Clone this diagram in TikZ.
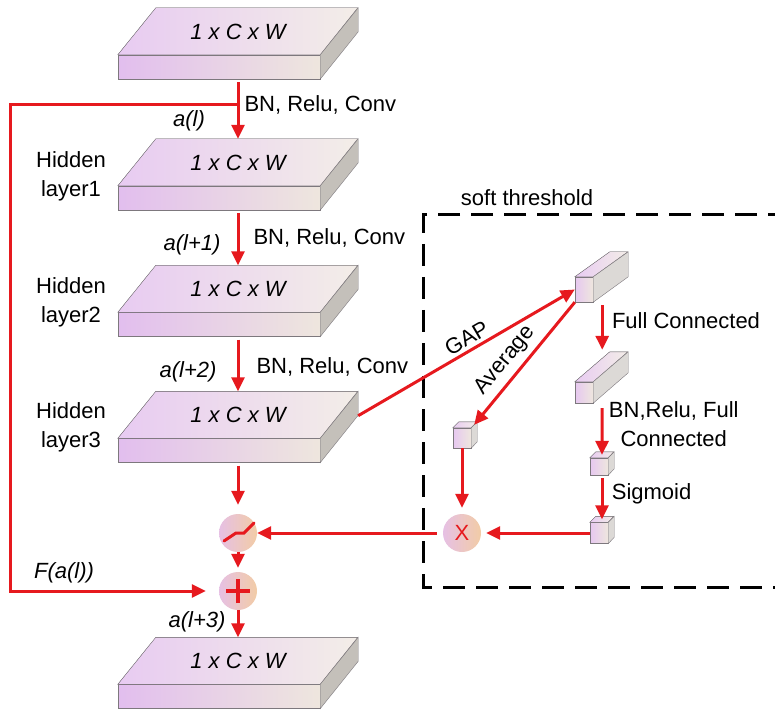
\documentclass[tikz,border=0pt]{standalone}
\usepackage{fontspec}
\setmainfont{Liberation Sans}
\usetikzlibrary{arrows.meta}
\definecolor{arrowred}{RGB}{230,25,30}
\definecolor{slabpink}{RGB}{226,190,238}
\definecolor{slabbeige}{RGB}{238,230,222}
\definecolor{slabside}{RGB}{196,192,186}
\definecolor{slabedge}{RGB}{125,120,125}
\definecolor{circpink}{RGB}{230,192,228}
\definecolor{circorange}{RGB}{242,204,166}

\begin{document}
\begin{tikzpicture}[x=1pt, y=1pt]
		\tikzset{slab/.style={rectangle, draw=slabedge, left color=slabpink, right color=slabbeige, minimum width=202, minimum height=24, inner sep=0},
			slabtop/.style={minimum height=47, inner sep=0, font=\fontsize{22}{26}\selectfont\itshape},
			face/.style={draw=slabedge, left color=slabpink!80!white, right color=slabbeige!70!white},
			side/.style={draw=slabedge, fill=slabside},
			cube/.style={rectangle, draw=slabedge, left color=slabpink!85!white, right color=slabbeige, inner sep=0},
			circ/.style={circle, left color=circpink, right color=circorange, minimum size=38, inner sep=0},
			lbl/.style={font=\fontsize{22}{29}\selectfont},
			ilbl/.style={font=\fontsize{22}{29}\selectfont\itshape},
			redarrow/.style={draw=arrowred, line width=3pt, -{Triangle[length=14pt, width=13pt]}},
			redline/.style={draw=arrowred, line width=3pt}}
		\clip (0,0) rectangle (775,710);

		% slabs
		\node[slab] (s1) at (219, 643) {};
		\filldraw[face] (s1.north west) -- ++(38,47) -- ++(202,0) -- (s1.north east) -- cycle;
		\filldraw[side] (s1.north east) -- ++(38,47) -- ++(0,-24) -- (s1.south east) -- cycle;
		\node[slabtop] (t1) at (238, 678.5) {1 x C x W};

		\node[slab] (s2) at (219, 512) {};
		\filldraw[face] (s2.north west) -- ++(38,47) -- ++(202,0) -- (s2.north east) -- cycle;
		\filldraw[side] (s2.north east) -- ++(38,47) -- ++(0,-24) -- (s2.south east) -- cycle;
		\node[slabtop] (t2) at (238, 547.5) {1 x C x W};

		\node[slab] (s3) at (219, 385.5) {};
		\filldraw[face] (s3.north west) -- ++(38,47) -- ++(202,0) -- (s3.north east) -- cycle;
		\filldraw[side] (s3.north east) -- ++(38,47) -- ++(0,-24) -- (s3.south east) -- cycle;
		\node[slabtop] (t3) at (238, 421) {1 x C x W};

		\node[slab] (s4) at (219, 259.5) {};
		\filldraw[face] (s4.north west) -- ++(38,47) -- ++(202,0) -- (s4.north east) -- cycle;
		\filldraw[side] (s4.north east) -- ++(38,47) -- ++(0,-24) -- (s4.south east) -- cycle;
		\node[slabtop] (t4) at (238, 295) {1 x C x W};

		\node[slab] (s5) at (219, 13.5) {};
		\filldraw[face] (s5.north west) -- ++(38,47) -- ++(202,0) -- (s5.north east) -- cycle;
		\filldraw[side] (s5.north east) -- ++(38,47) -- ++(0,-24) -- (s5.south east) -- cycle;
		\node[slabtop] (t5) at (238, 49) {1 x C x W};

		\node[lbl, align=center] (h1) at (71, 534) {Hidden\\layer1};
		\node[lbl, align=center] (h2) at (71, 408) {Hidden\\layer2};
		\node[lbl, align=center] (h3) at (71, 283) {Hidden\\layer3};

		% circles
		\node[circ] (act) at (238, 177) {};
		\node[circ] (plus) at (238, 119) {};
		\node[circ, lbl, text=arrowred] (mul) at (462, 177) {X};
		\draw[redline, line cap=round] ([shift={(-14,-8)}]act.center) -- ++(12,8) -- ++(8,0) -- ++(10,10);
		\draw[redline, line width=4pt] ([xshift=-12pt]plus.center) -- ([xshift=12pt]plus.center);
		\draw[redline, line width=4pt] ([yshift=-12pt]plus.center) -- ([yshift=12pt]plus.center);

		% main path
		\coordinate (split) at (238, 605);
		\coordinate (corner) at (10, 605);
		\draw[redarrow, shorten <=3pt] (t1.south |- s1.south) -- (t2.north);
		\draw[redarrow, shorten <=3pt] (t2.south |- s2.south) -- (t3.north);
		\draw[redarrow, shorten <=3pt] (t3.south |- s3.south) -- (t4.north);
		\draw[redarrow, shorten <=3pt, shorten >=9pt] (t4.south |- s4.south) -- (act);
		\draw[redarrow, shorten >=4pt] (act) -- (plus);
		\draw[redarrow] (plus) -- (t5.north);
		\draw[redarrow, shorten >=13pt] (split) -- (corner) |- (plus);

		\node[lbl, anchor=west] (bn1) at (241, 605) {BN, Relu, Conv};
		\node[ilbl] (al0) at (189, 589) {a(l)};
		\node[lbl, anchor=west] (bn2) at (250, 472) {BN, Relu, Conv};
		\node[ilbl] (al1) at (192, 465) {a(l+1)};
		\node[lbl, anchor=west] (bn3) at (253, 343) {BN, Relu, Conv};
		\node[ilbl] (al2) at (188, 338) {a(l+2)};
		\node[ilbl] (al3) at (197, 88) {a(l+3)};
		\node[ilbl] (fal) at (64, 137) {F(a(l))};

		% soft threshold
		\draw[black, line width=3pt, dash pattern=on 22pt off 11pt] (790, 495) -- (423, 495) -- (423, 123) -- (790, 123);
		\node[lbl] (soft) at (527, 512) {soft threshold};

		\node[cube, minimum width=18, minimum height=25] (b1) at (584, 420.5) {};
		\filldraw[face] (b1.north west) -- ++(35,25) -- ++(18,0) -- (b1.north east) -- cycle;
		\filldraw[side, fill=slabside!60!white] (b1.north east) -- ++(35,25) -- ++(0,-25) -- (b1.south east) -- cycle;

		\node[cube, minimum width=18, minimum height=21] (b2) at (584, 317.5) {};
		\filldraw[face] (b2.north west) -- ++(35,30) -- ++(18,0) -- (b2.north east) -- cycle;
		\filldraw[side, fill=slabside!60!white] (b2.north east) -- ++(35,30) -- ++(0,-21) -- (b2.south east) -- cycle;

		\node[cube, minimum width=18, minimum height=20] (l1) at (462, 272) {};
		\filldraw[face] (l1.north west) -- ++(6,6) -- ++(18,0) -- (l1.north east) -- cycle;
		\filldraw[side, fill=slabside!60!white] (l1.north east) -- ++(6,6) -- ++(0,-20) -- (l1.south east) -- cycle;

		\node[cube, minimum width=18, minimum height=17] (r1) at (599, 243.5) {};
		\filldraw[face] (r1.north west) -- ++(6,6) -- ++(18,0) -- (r1.north east) -- cycle;
		\filldraw[side, fill=slabside!60!white] (r1.north east) -- ++(6,6) -- ++(0,-17) -- (r1.south east) -- cycle;

		\node[cube, minimum width=18, minimum height=21] (r2) at (599, 177) {};
		\filldraw[face] (r2.north west) -- ++(6,6) -- ++(18,0) -- (r2.north east) -- cycle;
		\filldraw[side, fill=slabside!60!white] (r2.north east) -- ++(6,6) -- ++(0,-21) -- (r2.south east) -- cycle;

		\draw[redarrow] ([shift={(38,47)}]s4.south east) -- node[lbl, pos=0.53, sloped, above] (gap) {GAP} (b1.west);
		\draw[redarrow] (b1.south west) -- node[lbl, pos=0.56, sloped, above=2pt] (avg) {Average} ([shift={(3,3)}]l1.north east);
		\draw[redarrow] ([shift={(9,-3)}]b1.south east) -- node[lbl, pos=0.35, right=5pt] (fc) {Full Connected} ([shift={(9,32)}]b2.north east);
		\draw[redarrow] ([shift={(9,-5)}]b2.south east) -- node[lbl, align=center, pos=0.34, right=2pt] (bnfc) {BN,Relu, Full\\Connected} ([shift={(3,3)}]r1.north);
		\draw[redarrow] ([shift={(3,-3)}]r1.south) -- node[lbl, pos=0.38, right=5pt] (sig) {Sigmoid} ([shift={(3,3)}]r2.north);
		\draw[redarrow, shorten >=5pt] (r2.west) -- (mul);
		\draw[redarrow, shorten >=6pt] (l1.south) -- (mul);
		\draw[redarrow, shorten <=6pt] (mul) -- (act);
\end{tikzpicture}
\end{document}
